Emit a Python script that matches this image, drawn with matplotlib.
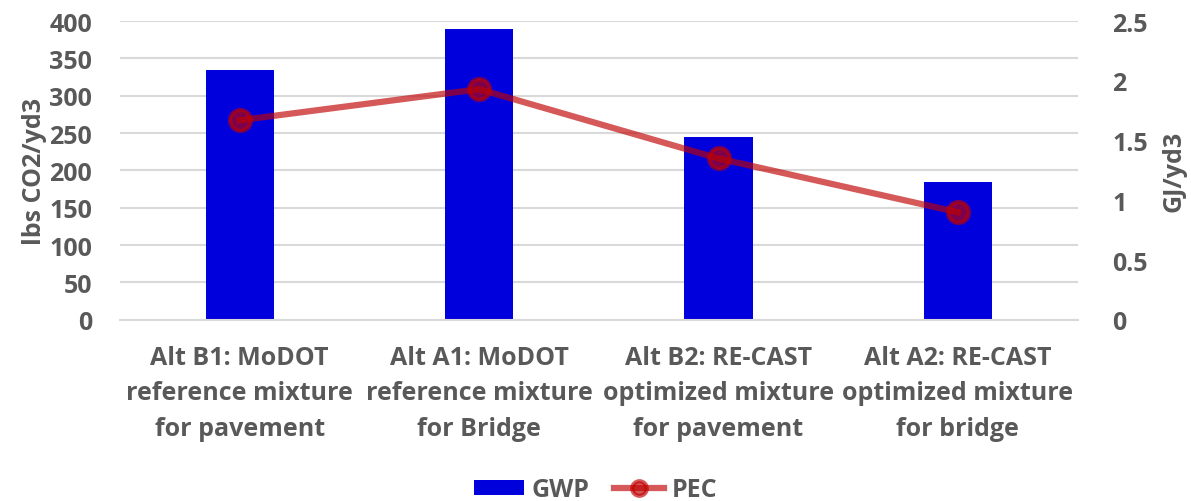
import matplotlib.pyplot as plt
import numpy as np

plt.rcParams['font.family'] = ['Open Sans', 'DejaVu Sans']
plt.rcParams['font.weight'] = 'bold'
plt.rcParams['axes.labelweight'] = 'bold'

categories = ["Alt B1: MoDOT\nreference mixture\nfor pavement",
              "Alt A1: MoDOT\nreference mixture\nfor Bridge",
              "Alt B2: RE-CAST\noptimized mixture\nfor pavement",
              "Alt A2: RE-CAST\noptimized mixture\nfor bridge"]
gwp = [334, 389, 245, 185]
pec = [1.67, 1.93, 1.35, 0.90]

grey = "#595959"
x = np.arange(len(categories))

fig = plt.figure(figsize=(11.91, 5.02), dpi=100)
ax = fig.add_axes([0.1008, 0.361, 0.804, 0.595])
ax2 = ax.twinx()

bars = ax.bar(x, gwp, width=0.285, color="#0000DD", label="GWP", zorder=2)
line, = ax2.plot(x, pec, color="#C00000", alpha=0.65, lw=4.5, marker="o",
                 markersize=15, markeredgewidth=3, markeredgecolor="#C00000",
                 markerfacecolor=(0.75, 0, 0, 0.45), label="PEC", zorder=3)

ax.set_xlim(-0.5, 3.5)
ax.set_ylim(0, 400)
ax.set_yticks(np.arange(0, 401, 50))
ax2.set_ylim(0, 2.5)
ax2.set_yticks([0, 0.5, 1, 1.5, 2, 2.5])
ax2.set_yticklabels(["0", "0.5", "1", "1.5", "2", "2.5"])

ax.grid(axis="y", color="#D9D9D9", lw=1.5, zorder=0)
ax.set_axisbelow(True)
for a in (ax, ax2):
    for s in a.spines.values():
        s.set_visible(False)
    a.tick_params(length=0, colors=grey, labelsize=18)
ax.spines["bottom"].set_visible(True)
ax.spines["bottom"].set_color("#D9D9D9")
ax.spines["bottom"].set_linewidth(1.5)

ax.set_xticks(x)
ax.set_xticklabels(categories, fontsize=18, color=grey, linespacing=1.55)
ax.tick_params(axis="x", pad=18)
ax.tick_params(axis="y", pad=20)
ax2.tick_params(axis="y", pad=25)
for t in ax.get_xticklabels() + ax.get_yticklabels() + ax2.get_yticklabels():
    t.set_fontweight("bold")

ax.set_ylabel("lbs CO2/yd3", fontsize=18, color=grey, labelpad=2)
ax2.set_ylabel("GJ/yd3", fontsize=18, color=grey, labelpad=10)

fig.legend([bars, line], ["GWP", "PEC"], loc="center", bbox_to_anchor=(0.5, 0.022),
           ncol=2, frameon=False, labelcolor=grey, handlelength=2.0, handleheight=0.55,
           columnspacing=1.0, handletextpad=0.3, markerscale=0.7,
           prop={"weight": "bold", "size": 18})

fig.savefig("out.png", dpi=100)
